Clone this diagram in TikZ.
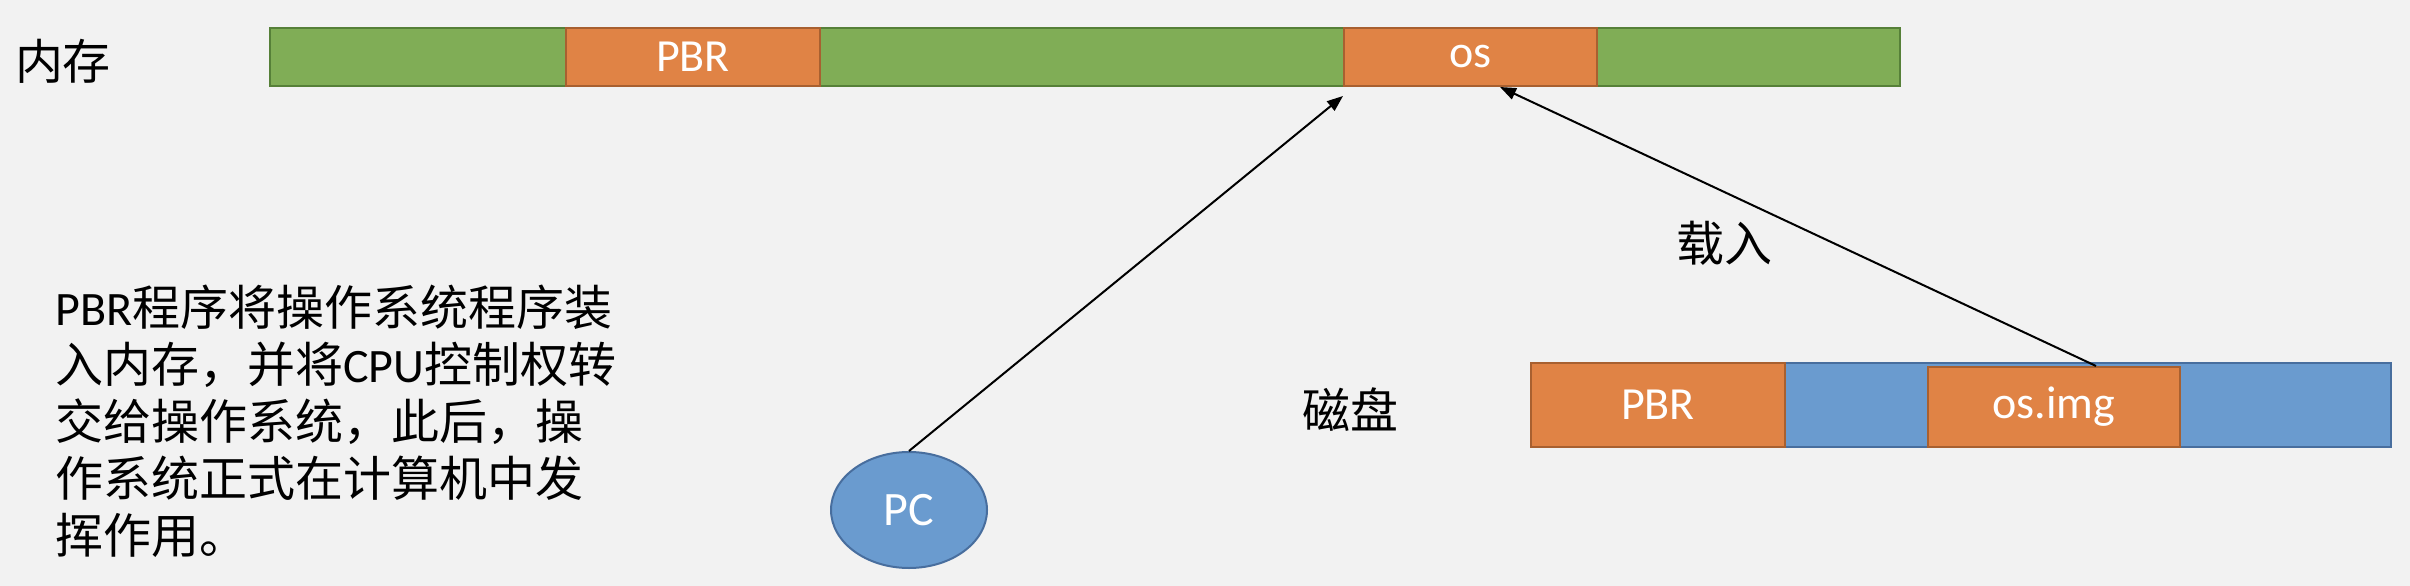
\documentclass[tikz,border=0pt]{standalone}
\usepackage{fontspec}
\setmainfont{Carlito}
\newfontfamily\cjk{Noto Sans CJK SC}
\usepackage{tikz}
\usetikzlibrary{positioning,arrows.meta,shapes.geometric}
\definecolor{paper}{RGB}{242,242,242}
\definecolor{leaf}{RGB}{128,173,86}
\definecolor{leafdk}{RGB}{86,128,56}
\definecolor{rust}{RGB}{224,131,69}
\definecolor{rustdk}{RGB}{168,96,48}
\definecolor{sky}{RGB}{106,155,207}
\definecolor{skydk}{RGB}{72,110,158}
\newcommand{\zh}[1]{{\cjk #1}}
\tikzset{
  cell/.style={draw,line width=2pt,inner sep=0pt,text=white,font=\fontsize{46}{46}\selectfont},
  memcell/.style={cell,fill=leaf,draw=leafdk,minimum height=58pt},
  filecell/.style={cell,fill=rust,draw=rustdk},
  diskcell/.style={cell,fill=sky,draw=skydk,minimum height=84pt},
  tag/.style={inner sep=0pt,font=\cjk\fontsize{48}{48}\selectfont},
  flow/.style={-{Triangle[length=16pt,width=12pt]},line width=2pt},
}
\begin{document}
\begin{tikzpicture}[x=1pt,y=-1pt]
  \fill[paper] (0,0) rectangle (2410,586);
  \useasboundingbox (0,0) rectangle (2410,586);
  \node[tag] (memtag) at (63,61) {内存};
  \node[memcell,minimum width=1630pt] (mem) at (1085,57) {};
  \node[filecell,minimum width=254pt,minimum height=58pt] (mpbr) at (693,57) {PBR};
  \node[filecell,minimum width=253pt,minimum height=58pt] (mos) at (1470.5,57) {os};
  \node[tag] (disktag) at (1350,410) {磁盘};
  \node[diskcell,minimum width=860pt] (disk) at (1961,405) {};
  \node[filecell,minimum width=254pt,minimum height=84pt] (dpbr) at (1658,405) {PBR};
  \node[filecell,minimum width=252pt,minimum height=80pt] (dimg) at (2054,407) {os.img};
  \node[ellipse,draw=skydk,fill=sky,line width=2pt,minimum width=156pt,minimum height=116pt,inner sep=0pt,
        text=white,font=\fontsize{48}{48}\selectfont] (pc) at (909,510) {PC};
  \node[tag] (load) at (1724,243) {载入};
  \node[anchor=north west,inner sep=0pt,align=left,font=\fontsize{48}{57}\selectfont] (note) at (55,285)
    {PBR\zh{程序将操作系统程序装}\\
     \zh{入内存，并将}CPU\zh{控制权转}\\
     \zh{交给操作系统，此后，操}\\
     \zh{作系统正式在计算机中发}\\
     \zh{挥作用。}};
  \coordinate (pctip) at (1343,96);
  \coordinate (loadtip) at (1500,87);
  \draw[flow] (pc.north) -- (pctip);
  \draw[flow] ([xshift=42pt]dimg.north) -- (loadtip);
\end{tikzpicture}
\end{document}
